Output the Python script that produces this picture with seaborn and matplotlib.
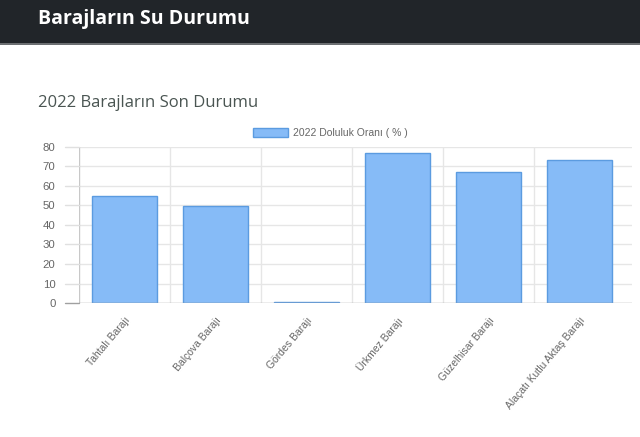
import numpy as np
import pandas as pd
import seaborn as sns
from matplotlib import pyplot as plt
from matplotlib.patches import Rectangle, Patch

# values
barajlar = ['Tahtalı Barajı', 'Balçova Barajı', 'Gördes Barajı', 'Ürkmez Barajı',
            'Güzelhisar Barajı', 'Alaçatı Kutlu Aktaş Barajı']
doluluk = [54.8, 49.5, 0.4, 77.0, 67.4, 73.4]
y_ticks = [0, 10, 20, 30, 40, 50, 60, 70, 80]
legend_label = '2022 Doluluk Oranı ( % )'

df = pd.DataFrame({'baraj': barajlar, 'oran': doluluk})

sns.set_style('white')
plt.rcParams['font.family'] = ['Liberation Sans', 'DejaVu Sans']

W, H = 640, 437
fig = plt.figure(figsize=(W / 100, H / 100), dpi=100)
fig.patch.set_facecolor('white')

# dark header bar
fig.patches.append(Rectangle((0, 1 - 43 / H), 1, 43 / H, transform=fig.transFigure,
                             facecolor='#212529', edgecolor='none', zorder=0))
fig.patches.append(Rectangle((0, 1 - 44.5 / H), 1, 1.5 / H, transform=fig.transFigure,
                             facecolor='#6c6f72', edgecolor='none', zorder=0))
fig.text(38 / W, 1 - 19 / H, 'Barajların Su Durumu', color='white', fontsize=14,
         fontweight='bold', family=['Open Sans', 'DejaVu Sans'], va='center', ha='left')
fig.text(38 / W, 1 - 103 / H, '2022 Barajların Son Durumu', color='#4a5552', fontsize=12,
         family=['Open Sans', 'DejaVu Sans'], va='center', ha='left')

left, right, top, bottom = 79, 632, 147, 303
ax = fig.add_axes([left / W, 1 - bottom / H, (right - left) / W, (bottom - top) / H])

fill = '#86bbf7'
edge = '#5b9be0'
sns.barplot(data=df, x='baraj', y='oran', color=fill, edgecolor=edge, linewidth=1,
            width=0.72, saturation=1, ax=ax)
for p in ax.patches:
    p.set_facecolor(fill)

n = len(barajlar)
ax.set_xlim(-0.5, n - 0.5 + 7 / 91)
ax.set_ylim(0, 80)
ax.set_yticks(y_ticks)
ax.set_xlabel('')
ax.set_ylabel('')

# grid lines like chart.js (category boundaries + value lines)
for yv in y_ticks[1:]:
    ax.axhline(yv, color='#e6e6e6', lw=1, zorder=0)
for i in range(n):
    ax.axvline(i - 0.5, color='#e6e6e6' if i else '#c8c8c8', lw=1, zorder=0)
ax.axhline(0, color='#a0a0a0', lw=1, zorder=3)

for s in ax.spines.values():
    s.set_visible(False)

ax.tick_params(axis='y', length=0, pad=17, labelsize=8.2, labelcolor='#666666')
ax.set_xticks(np.arange(n) - 0.5, minor=True)
ax.tick_params(axis='x', which='minor', length=12, color='#e0e0e0', width=1)
ax.tick_params(axis='y', which='both', left=False)
ax.tick_params(axis='x', which='major', length=0, pad=9)
# short tick extensions of horizontal lines on the left
for yv in y_ticks:
    ax.plot([-0.5 - 14 / 91, -0.5], [yv, yv], color='#e0e0e0' if yv else '#a0a0a0',
            lw=1, clip_on=False, zorder=0)
ax.set_xticks(range(n))
ax.set_xticklabels(barajlar, rotation=50, ha='right', rotation_mode='anchor',
                   fontsize=7.5, color='#666666')

handle = Patch(facecolor=fill, edgecolor=edge, linewidth=1)
fig.legend([handle], [legend_label], loc='center left', frameon=False,
           bbox_to_anchor=(253 / W, 1 - 133 / H), fontsize=7.5, labelcolor='#666666',
           handlelength=3.35, handleheight=1.0, handletextpad=0.5, borderpad=0,
           borderaxespad=0)

fig.savefig('out.png', dpi=100)
